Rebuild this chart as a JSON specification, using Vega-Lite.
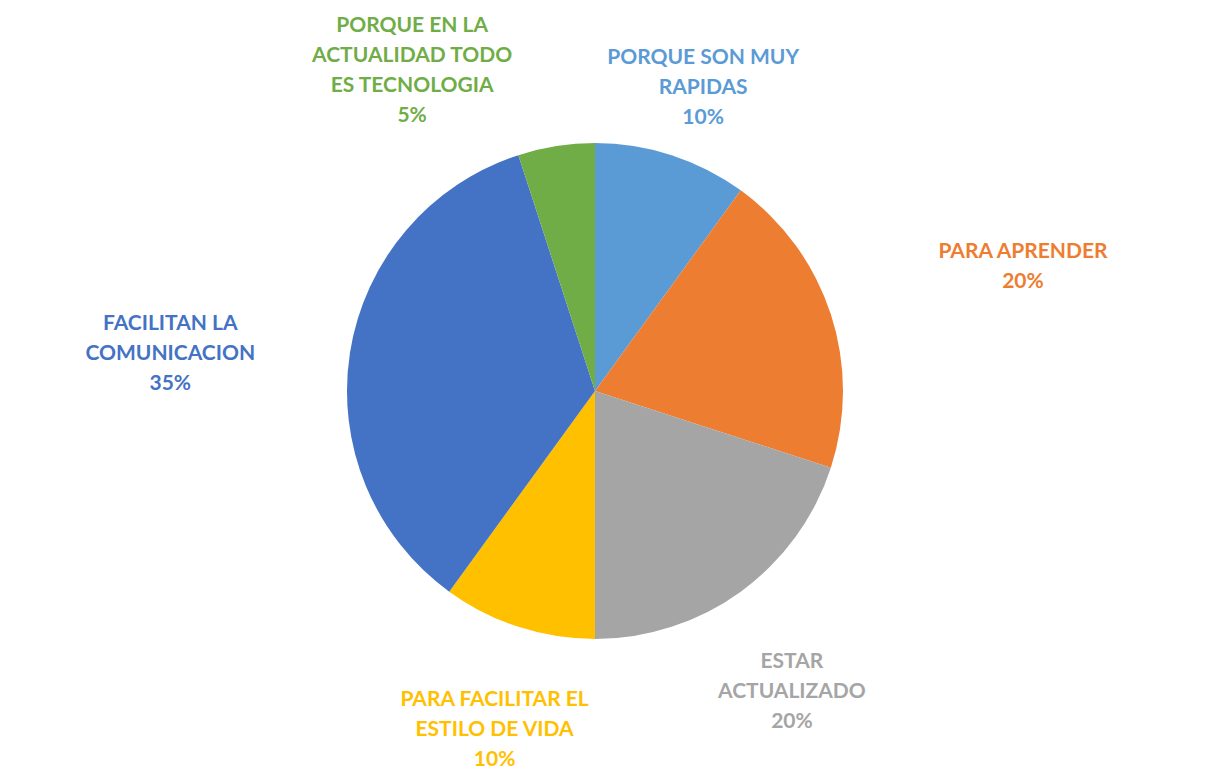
{
  "$schema": "https://vega.github.io/schema/vega-lite/v6.json",
  "width": 1190,
  "height": 782,
  "autosize": {"type": "none"},
  "padding": {"left": 0, "top": 0, "right": 25, "bottom": 0},
  "background": "white",
  "config": {"view": {"stroke": null}},
  "data": {
    "values": [
      {"categoria": "PORQUE SON MUY RAPIDAS", "etiqueta": "PORQUE SON MUY\nRAPIDAS", "porcentaje": 10, "orden": 1},
      {"categoria": "PARA APRENDER", "etiqueta": "PARA APRENDER", "porcentaje": 20, "orden": 2},
      {"categoria": "ESTAR ACTUALIZADO", "etiqueta": "ESTAR\nACTUALIZADO", "porcentaje": 20, "orden": 3},
      {"categoria": "PARA FACILITAR EL ESTILO DE VIDA", "etiqueta": "PARA FACILITAR EL\nESTILO DE VIDA", "porcentaje": 10, "orden": 4},
      {"categoria": "FACILITAN LA COMUNICACION", "etiqueta": "FACILITAN LA\nCOMUNICACION", "porcentaje": 35, "orden": 5},
      {"categoria": "PORQUE EN LA ACTUALIDAD TODO ES TECNOLOGIA", "etiqueta": "PORQUE EN LA\nACTUALIDAD TODO\nES TECNOLOGIA", "porcentaje": 5, "orden": 6}
    ]
  },
  "transform": [
    {"calculate": "datum.etiqueta + '\\n' + datum.porcentaje + '%'", "as": "texto"}
  ],
  "encoding": {
    "theta": {"field": "porcentaje", "type": "quantitative", "stack": true},
    "order": {"field": "orden", "type": "quantitative"},
    "color": {
      "field": "categoria",
      "type": "nominal",
      "scale": {
        "domain": ["PORQUE SON MUY RAPIDAS", "PARA APRENDER", "ESTAR ACTUALIZADO", "PARA FACILITAR EL ESTILO DE VIDA", "FACILITAN LA COMUNICACION", "PORQUE EN LA ACTUALIDAD TODO ES TECNOLOGIA"],
        "range": ["#5B9BD5", "#ED7D31", "#A5A5A5", "#FFC000", "#4472C4", "#70AD47"]
      },
      "legend": null
    }
  },
  "layer": [
    {"mark": {"type": "arc", "outerRadius": 248}},
    {
      "mark": {
        "type": "text",
        "radius": {"expr": "datum.orden === 1 ? 350 : datum.orden === 2 ? 450 : datum.orden === 3 ? 335 : datum.orden === 4 ? 325 : datum.orden === 5 ? 430 : 370"},
        "dx": {"expr": "datum.orden === 6 ? -125 : 0"},
        "font": "Lato",
        "fontWeight": "bold",
        "fontSize": 21,
        "lineBreak": "\n",
        "lineHeight": 30,
        "align": "center",
        "baseline": "middle"
      },
      "encoding": {"text": {"field": "texto", "type": "nominal"}}
    }
  ]
}
